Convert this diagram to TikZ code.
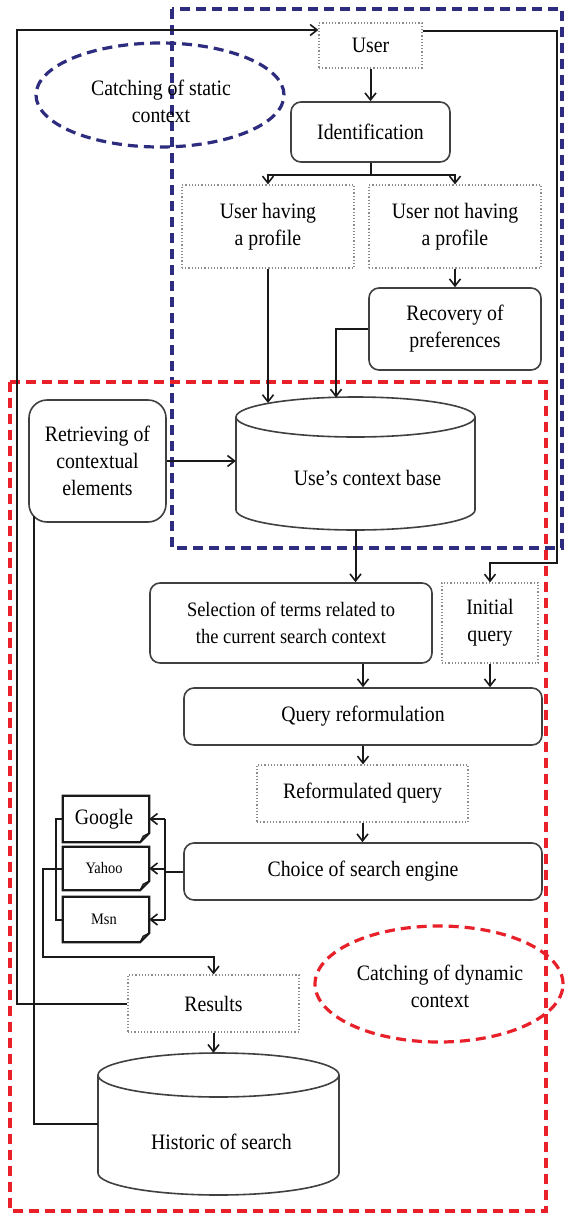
\documentclass[tikz,border=0pt]{standalone}
\usepackage{fontspec}
\setmainfont{Liberation Serif}[FakeStretch=0.9]
\usetikzlibrary{arrows.meta,calc}
\definecolor{navyc}{HTML}{2E2C7E}
\definecolor{redc}{HTML}{E8202A}
\newcommand\mainsz{\fontsize{22pt}{27pt}\selectfont}
\newcommand\smallsz{\fontsize{16pt}{19pt}\selectfont}
\tikzset{
  conn/.style={draw=black!90, line width=2pt},
  arr/.style={conn, -{Straight Barb[length=7pt,width=11pt,line width=1.6pt]}},
  dotbox/.style={draw=black!45, dotted, line width=1.2pt, fill=white, align=center, inner sep=0pt, text=black},
  rbox/.style={draw=black!75, line width=1.6pt, rounded corners=10pt, fill=white, align=center, inner sep=0pt, text=black},
  cylbox/.style={inner sep=0pt},
  cylline/.style={draw=black!75, line width=1.6pt, fill=white},
  docbox/.style={inner sep=0pt, align=center, text=black},
  docline/.style={draw=black!90, line width=2.2pt, fill=white},
  blueframe/.style={draw=navyc, dash pattern=on 10pt off 6pt, line width=3.2pt},
  redframe/.style={draw=redc, dash pattern=on 10pt off 6pt, line width=3.2pt},
  lbl/.style={align=center, text=black, inner sep=0pt},
  every node/.style={font=\mainsz}
}
\begin{document}
\begin{tikzpicture}[x=1pt, y=-1pt]
\useasboundingbox (0,0) rectangle (565,1216);
\fill[white] (0,0) rectangle (565,1216);

% frames and ellipses
\draw[blueframe] (172,9) rectangle (562,548);
\draw[redframe] (10,382) rectangle (546,1211);
\draw[blueframe] (160,95) ellipse [x radius=124pt, y radius=52pt];
\node[lbl] (statxt) at (161,101) {Catching of static\\context};
\draw[redframe] (439,984) ellipse [x radius=124pt, y radius=58pt];
\node[lbl] (dyntxt) at (440,986) {Catching of dynamic\\context};

% boxes
\node[dotbox, minimum width=103pt, minimum height=45pt] (user) at (370.5,45.5) {User};
\node[rbox, minimum width=159pt, minimum height=60pt] (ident) at (370.5,132) {Identification};
\node[dotbox, minimum width=172pt, minimum height=83pt] (uhp) at (268,226.5) {User having\\a profile};
\node[dotbox, minimum width=172pt, minimum height=83pt] (unhp) at (455,226.5) {User not having\\a profile};
\node[rbox, minimum width=172pt, minimum height=82pt] (recov) at (455,329) {Recovery of\\preferences};
\node[rbox, rounded corners=18pt, minimum width=137pt, minimum height=122pt] (retr) at (97.5,461) {Retrieving of\\contextual\\elements};

% context base cylinder
\node[cylbox, minimum width=239pt, minimum height=133pt] (cb) at (355.5,463.5) {};
\draw[cylline] (236,417) -- (236,510) arc[start angle=180, end angle=360, x radius=119.5pt, y radius=20pt] -- (475,417);
\draw[cylline] (355.5,417) ellipse [x radius=119.5pt, y radius=20pt];
\node[lbl] (cbtxt) at ($(cb.center)+(12,14)$) {Use’s context base};

\node[rbox, minimum width=282pt, minimum height=80pt, font=\fontsize{20.5pt}{27pt}\selectfont] (sel) at (291,623) {Selection of terms related to\\the current search context};
\node[dotbox, minimum width=96pt, minimum height=80pt] (initq) at (490,623) {Initial\\query};
\node[rbox, minimum width=358pt, minimum height=57pt] (qref) at (363,716.5) {Query reformulation};
\node[dotbox, minimum width=211pt, minimum height=57pt] (refq) at (362.5,793.5) {Reformulated query};
\node[rbox, minimum width=358pt, minimum height=57pt] (choice) at (363,871.5) {Choice of search engine};

% search engine documents
\node[docbox, minimum width=86pt, minimum height=46pt] (google) at (106,819) {};
\node[docbox, minimum width=86pt, minimum height=43pt] (yahoo) at (106,868.5) {};
\node[docbox, minimum width=86pt, minimum height=45pt] (msn) at (106,919.5) {};
\foreach \n in {google,yahoo,msn}{
  \draw[docline] (\n.north west) -- (\n.north east) -- ([yshift=9pt]\n.south east) -- ([xshift=-9pt]\n.south east) -- (\n.south west) -- cycle;
  \draw[black!90, line width=1.4pt] ([yshift=9pt]\n.south east) -- ([xshift=-6pt,yshift=6pt]\n.south east) -- ([xshift=-9pt]\n.south east);
}
\node[lbl] at ([xshift=-2pt]google.center) {Google};
\node[lbl, font=\smallsz] at ([xshift=-2pt]yahoo.center) {Yahoo};
\node[lbl, font=\smallsz] at ([xshift=-2pt]msn.center) {Msn};

\node[dotbox, minimum width=171pt, minimum height=57pt] (results) at (213.5,1003.5) {Results};

% historic cylinder
\node[cylbox, minimum width=241pt, minimum height=142pt] (hist) at (218.5,1124) {};
\draw[cylline] (98,1075) -- (98,1173) arc[start angle=180, end angle=360, x radius=120.5pt, y radius=22pt] -- (339,1075);
\draw[cylline] (218.5,1075) ellipse [x radius=120.5pt, y radius=22pt];
\node[lbl] (histtxt) at ($(hist.center)+(3,18)$) {Historic of search};

% coordinates
\coordinate (lb) at (17,1005);
\coordinate (lt) at (17,30);
\coordinate (ur) at (557,31);
\coordinate (ur2) at (557,563);
\coordinate (split) at (370.5,175);
\coordinate (cbtA) at (268,403);
\coordinate (cbtB) at (336,397.5);
\coordinate (bus) at (165,871.5);
\coordinate (brk) at (56,0);
\coordinate (yl) at (43,957);
\coordinate (rs) at (34,516);

% connectors
\draw[arr] (results.west) -- (results.west -| lb) -- (lt) -- (lt -| user.west);
\draw[arr] (user.east |- ur) -- (ur) -- (ur2) -| (initq.north);
\draw[arr] (user.south) -- (ident.north);
\draw[conn] (ident.south) -- (split);
\draw[arr] (split) -| (uhp.north);
\draw[arr] (split) -| (unhp.north);
\draw[arr] (unhp.south) -- (recov.north);
\draw[arr] (uhp.south) -- (cbtA);
\draw[arr] (recov.west) -| (cbtB);
\draw[arr] (retr.east) -- (retr.east -| cb.west);
\draw[arr] (cb.south) -- (cb.south |- sel.north);
\draw[arr] (qref.north |- sel.south) -- (qref.north);
\draw[arr] (initq.south) -- (initq.south |- qref.north);
\draw[arr] (qref.south) -- (qref.south |- refq.north);
\draw[arr] (refq.south) -- (refq.south |- choice.north);
\draw[conn] (choice.west) -- (bus);
\draw[conn] (bus |- google.east) -- (bus |- msn.east);
\foreach \n in {google,yahoo,msn}{
  \draw[arr] (bus |- \n.east) -- (\n.east);
}
\draw[conn] (google.west) -- (google.west -| brk) -- (msn.west -| brk) -- (msn.west);
\draw[arr] (yahoo.west) -| (yl) -| (results.north);
\draw[arr] (results.south) -- (results.south |- hist.north);
\draw[conn] (rs) |- (hist.west);
\end{tikzpicture}
\end{document}
